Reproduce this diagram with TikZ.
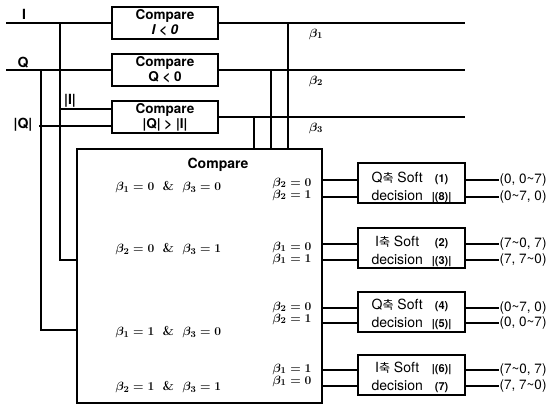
\documentclass[tikz,border=0pt]{standalone}
\usepackage{amsmath,amssymb}
\usepackage[no-math]{fontspec}
\setsansfont{TeX Gyre Heros}
\newfontfamily\krfont{Noto Sans CJK KR}
\newcommand{\ax}{{\krfont\fontsize{12}{12}\selectfont 축}}
\newcommand{\nr}[1]{{\bfseries\fontsize{11}{11}\selectfont #1}}

\begin{document}
\begin{tikzpicture}[x=1pt,y=-1pt,line width=1.2pt,
  cmpbox/.style={draw,minimum width=106pt,minimum height=32pt,inner sep=0pt,
    align=center,font=\sffamily\bfseries\fontsize{13.5}{15}\selectfont},
  bigbox/.style={draw,minimum width=245pt,minimum height=254pt,inner sep=0pt},
  softbox/.style={draw,minimum width=107pt,minimum height=40pt,inner sep=0pt},
  softtxt/.style={inner sep=0pt,font=\sffamily\fontsize{14}{17}\selectfont},
  lbl/.style={inner sep=0pt,font=\sffamily\bfseries\fontsize{14}{15}\selectfont},
  cond/.style={inner sep=0pt,font=\boldmath\fontsize{13}{14}\selectfont},
  pair/.style={inner sep=0pt,align=right,anchor=east,font=\boldmath\fontsize{12.5}{12}\selectfont},
  outlbl/.style={inner sep=0pt,anchor=west,font=\sffamily\fontsize{13.5}{14}\selectfont}]
\useasboundingbox (0,0) rectangle (558,407);
\node[lbl] (ilbl) at (24,14) {I};
\node[lbl] (qlbl) at (23,63) {Q};
\node[lbl] (qabs) at (23,125) {|Q|};
\node[lbl] (iabs) at (70,101) {|I|};
\node[cmpbox] (c1) at (165,23) {Compare\\\textit{I < 0}};
\node[cmpbox] (c2) at (165,70) {Compare\\Q < 0};
\node[cmpbox] (c3) at (165,117) {Compare\\|Q| > |I|};
\node[cond] (b1) at (316,34) {$\beta_1$};
\node[cond] (b2) at (316,81) {$\beta_2$};
\node[cond] (b3) at (316,128) {$\beta_3$};
\node[bigbox] (big) at (199.5,276) {};
\node[lbl] (bigt) at (218,165) {Compare};
\node[cond,anchor=west] (r1) at (115,187) {$\beta_1=0$\ \ \textbf{\&}\ \ $\beta_3=0$};
\node[cond,anchor=west] (r2) at (115,249) {$\beta_2=0$\ \ \textbf{\&}\ \ $\beta_3=1$};
\node[cond,anchor=west] (r3) at (115,332) {$\beta_1=1$\ \ \textbf{\&}\ \ $\beta_3=0$};
\node[cond,anchor=west] (r4) at (115,387) {$\beta_2=1$\ \ \textbf{\&}\ \ $\beta_3=1$};
\node[pair] (p1) at (312,189) {$\beta_2=0$\\$\beta_2=1$};
\node[pair] (p2) at (312,253) {$\beta_1=0$\\$\beta_1=1$};
\node[pair] (p3) at (312,313) {$\beta_2=0$\\$\beta_2=1$};
\node[pair] (p4) at (312,375) {$\beta_1=1$\\$\beta_1=0$};
\node[softbox] (s1) at (411.5,183) {};
\node[softbox] (s2) at (411.5,248) {};
\node[softbox] (s3) at (411.5,312) {};
\node[softbox] (s4) at (411.5,375) {};
\node[softtxt] (s1t) at (411.5,188.5) {\begin{tabular}{@{}c@{\hspace{9pt}}c@{}}Q\ax{} Soft & \nr{(1)}\\[1pt] decision & \nr{|(8)|}\end{tabular}};
\node[softtxt] (s2t) at (411.5,252) {\begin{tabular}{@{}c@{\hspace{9pt}}c@{}}I\ax{} Soft & \nr{(2)}\\[1pt] decision & \nr{|(3)|}\end{tabular}};
\node[softtxt] (s3t) at (411.5,315.5) {\begin{tabular}{@{}c@{\hspace{9pt}}c@{}}Q\ax{} Soft & \nr{(4)}\\[1pt] decision & \nr{|(5)|}\end{tabular}};
\node[softtxt] (s4t) at (411.5,378) {\begin{tabular}{@{}c@{\hspace{9pt}}c@{}}I\ax{} Soft & \nr{|(6)|}\\[1pt] decision & \nr{(7)}\end{tabular}};
\node[outlbl] (o1a) at (499,180) {(0, 0\textasciitilde7)};
\node[outlbl] (o1b) at (499,197) {(0\textasciitilde7, 0)};
\node[outlbl] (o2a) at (499,244) {(7\textasciitilde0, 7)};
\node[outlbl] (o2b) at (499,260) {(7, 7\textasciitilde0)};
\node[outlbl] (o3a) at (499,308) {(0\textasciitilde7, 0)};
\node[outlbl] (o3b) at (499,323) {(0, 0\textasciitilde7)};
\node[outlbl] (o4a) at (499,370) {(7\textasciitilde0, 7)};
\node[outlbl] (o4b) at (499,386) {(7, 7\textasciitilde0)};
\coordinate (iin) at (6,23);
\coordinate (qin) at (6,70);
\coordinate (ij) at (60,23);
\coordinate (ibend) at (60,260);
\coordinate (qj) at (41,70);
\coordinate (qbend) at (41,330);
\coordinate (iaj) at (60,109);
\coordinate (qaj) at (39,126);
\coordinate (e1) at (465,23);
\coordinate (e2) at (465,70);
\coordinate (e3) at (465,117);
\coordinate (t1) at (288,23);
\coordinate (t2) at (271,70);
\coordinate (t3) at (254,117);
\draw (iin) -- (c1);
\draw (qin) -- (c2);
\draw (c1) -- (e1);
\draw (c2) -- (e2);
\draw (c3) -- (e3);
\draw (ij) -- (ibend) -- (ibend -| big.west);
\draw (qj) -- (qbend) -- (qbend -| big.west);
\draw (iaj) -- (iaj -| c3.west);
\draw (qaj) -- (qaj -| c3.west);
\draw (t1) -- (t1 |- big.north);
\draw (t2) -- (t2 |- big.north);
\draw (t3) -- (t3 |- big.north);
\draw (o1a -| big.east) -- (o1a -| s1.west);
\draw (o1b -| big.east) -- (o1b -| s1.west);
\draw (o2a -| big.east) -- (o2a -| s2.west);
\draw (o2b -| big.east) -- (o2b -| s2.west);
\draw (o3a -| big.east) -- (o3a -| s3.west);
\draw (o3b -| big.east) -- (o3b -| s3.west);
\draw (o4a -| big.east) -- (o4a -| s4.west);
\draw (o4b -| big.east) -- (o4b -| s4.west);
\draw (o1a -| s1.east) -- (o1a.west);
\draw (o1b -| s1.east) -- (o1b.west);
\draw (o2a -| s2.east) -- (o2a.west);
\draw (o2b -| s2.east) -- (o2b.west);
\draw (o3a -| s3.east) -- (o3a.west);
\draw (o3b -| s3.east) -- (o3b.west);
\draw (o4a -| s4.east) -- (o4a.west);
\draw (o4b -| s4.east) -- (o4b.west);
\end{tikzpicture}
\end{document}
